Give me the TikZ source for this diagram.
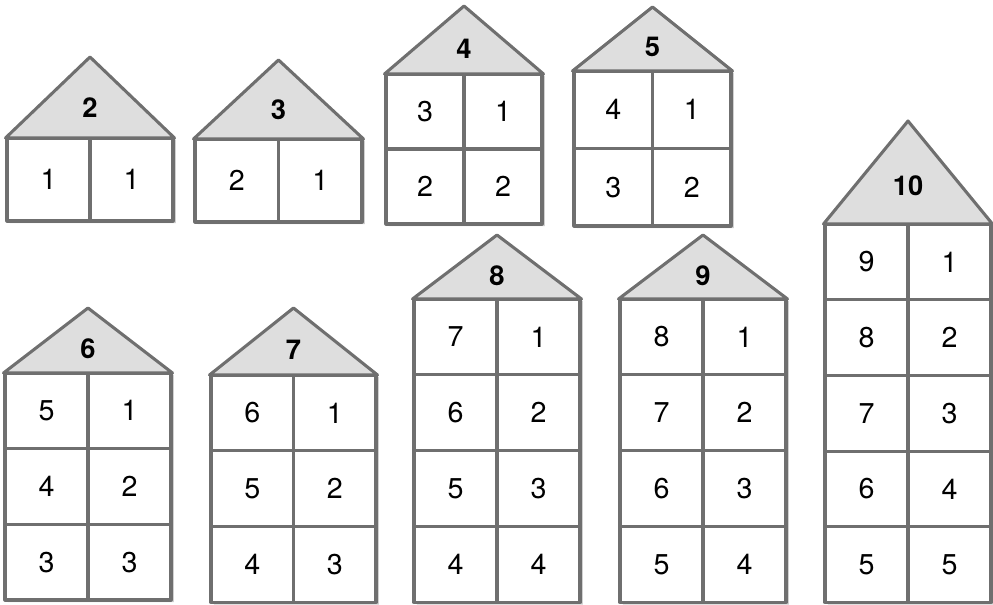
\documentclass[tikz,border=0pt]{standalone}
\usepackage{fontspec}
\setmainfont{TeX Gyre Heros}
\usetikzlibrary{shadows}
\definecolor{linegray}{HTML}{6F6F6F}
\definecolor{roofgray}{HTML}{DEDEDE}
\tikzset{
  wall/.style={draw=linegray, line width=2.3pt, line join=round},
  cellbox/.style={wall, fill=white, inner sep=0pt, outer sep=0pt,
    font=\fontsize{21.5}{24}\selectfont, text=black},
  roofshape/.style={wall, fill=roofgray},
  rooflabel/.style={font=\fontsize{20.5}{24}\selectfont\bfseries, text=black, inner sep=0pt},
  silhouette/.style={fill=white, drop shadow={shadow xshift=2.2pt, shadow yshift=-1.6pt, opacity=0.18, fill=black}}
}
% id, xl, xr, apex y, top y, bottom y, label, number of rows, rows
\newcommand\drawhouse[9]{%
  \pgfmathsetmacro\hm{(#2+#3)/2}%
  \pgfmathsetmacro\hh{(#6-#5)/#8}%
  \pgfmathsetmacro\cw{(#3-#2)/2*0.75}%
  \pgfmathsetmacro\ch{\hh*0.75}%
  \fill[silhouette] (#2,#6) -- (#2,#5) -- (\hm,#4) -- (#3,#5) -- (#3,#6) -- cycle;
  \foreach \lv/\rv [count=\i] in {#9} {%
    \pgfmathsetmacro\yc{#5+(\i-0.5)*\hh}%
    \pgfmathsetmacro\xl{(3*#2+#3)/4}%
    \pgfmathsetmacro\xr{(#2+3*#3)/4}%
    \node[cellbox, minimum width=\cw pt, minimum height=\ch pt] (h#1-\i l) at (\xl,\yc) {\lv};
    \node[cellbox, minimum width=\cw pt, minimum height=\ch pt] (h#1-\i r) at (\xr,\yc) {\rv};
  }
  \draw[roofshape] (#2-1.5,#5) -- (\hm,#4) -- (#3+1.5,#5) -- cycle;
  \pgfmathsetmacro\ly{#4+0.63*(#5-#4)}%
  \node[rooflabel] (h#1-label) at (\hm,\ly) {#7};
}
\begin{document}
\begin{tikzpicture}[x=0.75pt,y=-0.75pt]
\useasboundingbox (0,0) rectangle (993,605);
\drawhouse{2}{7}{173}{57}{138}{221}{2}{1}{1/1}
\drawhouse{3}{195}{362}{60}{139}{222}{3}{1}{2/1}
\drawhouse{4}{386}{542}{6}{74}{224}{4}{2}{3/1,2/2}
\drawhouse{5}{574}{731}{7}{71}{226}{5}{2}{4/1,3/2}
\drawhouse{6}{5}{171}{308}{373}{600}{6}{3}{5/1,4/2,3/3}
\drawhouse{7}{211}{376}{308}{375}{602.5}{7}{3}{6/1,5/2,4/3}
\drawhouse{8}{414}{580}{235}{299}{602.5}{8}{4}{7/1,6/2,5/3,4/4}
\drawhouse{9}{620}{786}{235}{299}{602.5}{9}{4}{8/1,7/2,6/3,5/4}
\drawhouse{10}{825}{991}{121}{224}{602.5}{10}{5}{9/1,8/2,7/3,6/4,5/5}
\end{tikzpicture}
\end{document}
